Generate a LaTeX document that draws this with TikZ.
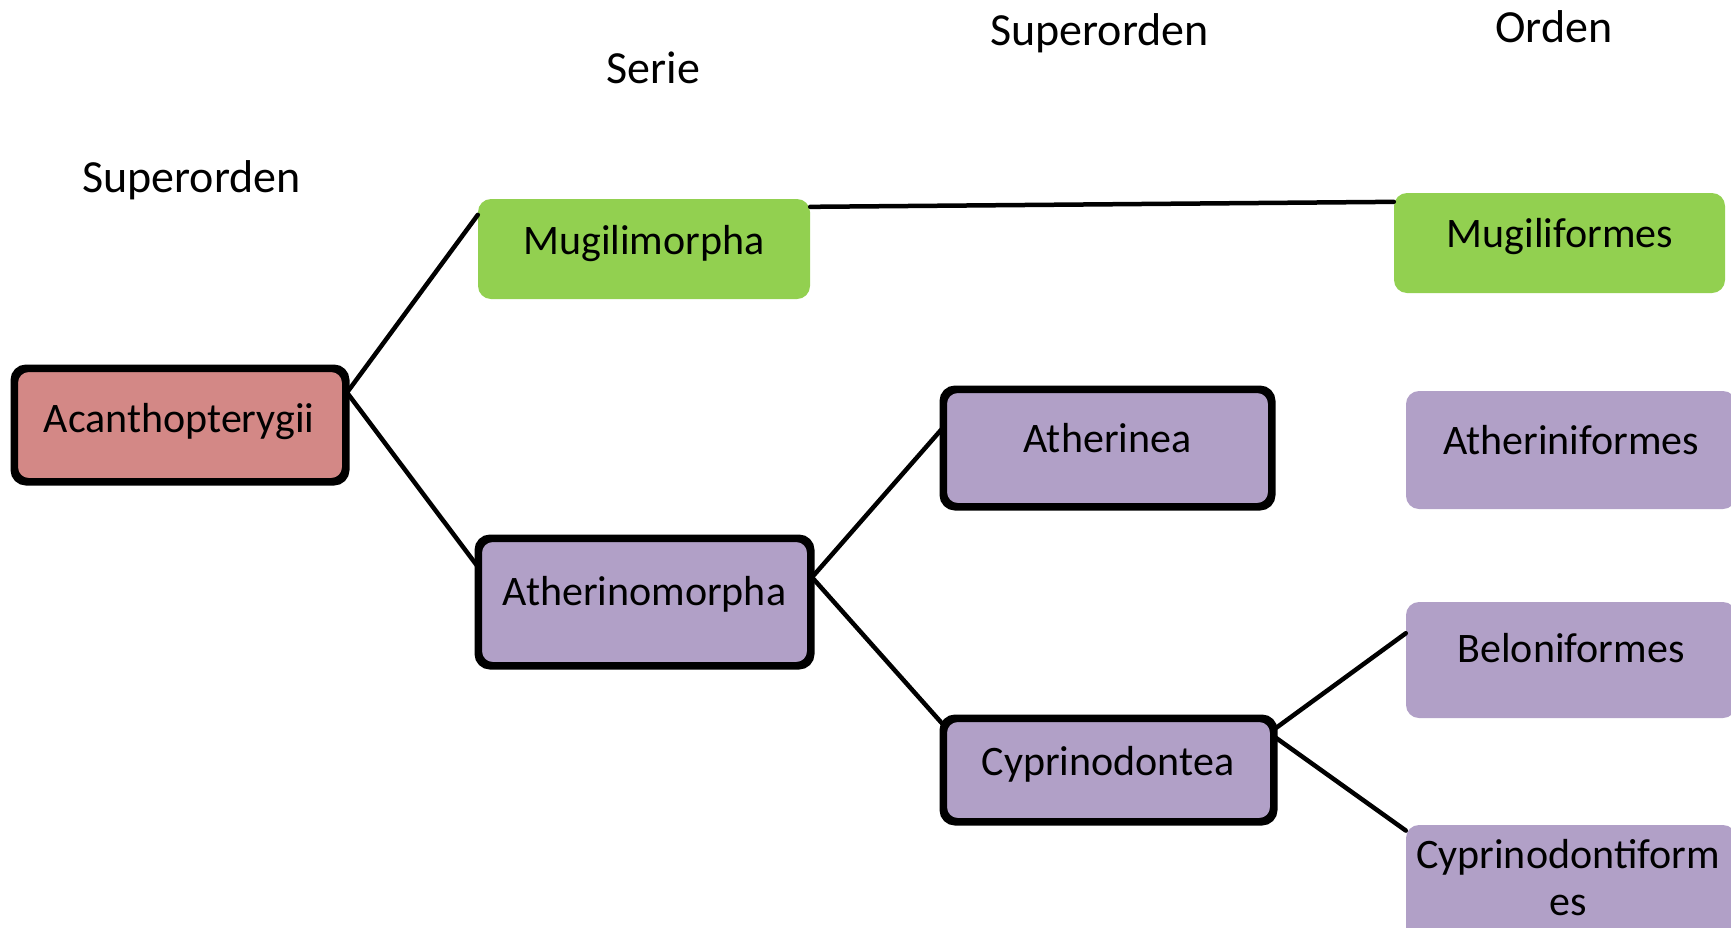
\documentclass[tikz,border=0pt]{standalone}
\usepackage{fontspec}
\setmainfont{Carlito}
\usetikzlibrary{calc}
\definecolor{redfill}{HTML}{D38886}
\definecolor{greenfill}{HTML}{92D050}
\definecolor{purplefill}{HTML}{B1A0C7}
\tikzset{
  box/.style={rectangle, rounded corners=13pt, inner sep=0pt, draw=none},
  framed/.style={box, draw=black, line width=5pt},
  lbl/.style={inner sep=0pt, anchor=base, font=\fontsize{42}{47}\selectfont, align=center},
  head/.style={inner sep=0pt, anchor=base, font=\fontsize{46}{46}\selectfont},
  link/.style={line width=4.5pt, line cap=round},
  outline/.style={line width=5pt, rounded corners=13pt},
}
\begin{document}
\begin{tikzpicture}[x=1pt, y=-1pt]
\useasboundingbox (0,0) rectangle (1731,927);

% column headings
\node[head] (h1) at (191.5,192) {Superorden};
\node[head] (h2) at (653.5,83) {Serie};
\node[head] (h3) at (1099.5,45) {Superorden};
\node[head] (h4) at (1554,42) {Orden};

% boxes (geometry only)
\node[framed, fill=redfill, minimum width=329pt, minimum height=111pt] (acan) at (180,425) {};
\node[box, fill=greenfill, minimum width=332pt, minimum height=100pt] (mugi) at (644,249) {};
\node[box, fill=greenfill, minimum width=331pt, minimum height=100pt] (mugf) at (1559.5,243) {};
\node[framed, fill=purplefill, minimum width=330pt, minimum height=125pt] (athm) at (644.5,602) {};
\node[framed, fill=purplefill, minimum width=326pt, minimum height=115pt] (athn) at (1107.5,448) {};
\node[framed, fill=purplefill, minimum width=328pt, minimum height=101pt] (cypr) at (1108.5,770) {};
\node[box, fill=purplefill, minimum width=330pt, minimum height=118pt] (athf) at (1571,450) {};
\node[box, fill=purplefill, minimum width=330pt, minimum height=116pt] (belf) at (1571,660) {};
\node[box, fill=purplefill, minimum width=330pt, minimum height=115pt] (cypf) at (1571,882.5) {};

% attachment points on the box edges
\coordinate (acanR) at ($(acan.north east)!0.22!(acan.south east)$);
\coordinate (athmR) at ($(athm.north east)!0.31!(athm.south east)$);
\coordinate (cyprRa) at ($(cypr.north east)!0.11!(cypr.south east)$);
\coordinate (cyprRb) at ($(cypr.north east)!0.19!(cypr.south east)$);
\coordinate (mugiR) at ($(mugi.north east)!0.08!(mugi.south east)$);
\coordinate (mugiL) at ($(mugi.north west)!0.16!(mugi.south west)$);
\coordinate (athmL) at ($(athm.north west)!0.22!(athm.south west)$);
\coordinate (mugfL) at ($(mugf.north west)!0.09!(mugf.south west)$);
\coordinate (athnL) at ($(athn.north west)!0.34!(athn.south west)$);
\coordinate (cyprL) at ($(cypr.north west)!0.06!(cypr.south west)$);
\coordinate (belfL) at ($(belf.north west)!0.27!(belf.south west)$);
\coordinate (cypfL) at ($(cypf.north west)!0.05!(cypf.south west)$);

% connectors
\draw[link] (acanR) -- (mugiL);
\draw[link] (acanR) -- (athmL);
\draw[link] (mugiR) -- (mugfL);
\draw[link] (athmR) -- (athnL);
\draw[link] (athmR) -- (cyprL);
\draw[link] (cyprRa) -- (belfL);
\draw[link] (cyprRb) -- (cypfL);

% outlines drawn again above the connector ends
\draw[outline] (acan.north west) rectangle (acan.south east);
\draw[outline] (athm.north west) rectangle (athm.south east);
\draw[outline] (athn.north west) rectangle (athn.south east);
\draw[outline] (cypr.north west) rectangle (cypr.south east);

% box labels
\node[lbl] (acanT) at (179,432) {Acanthopterygii};
\node[lbl] (mugiT) at (644,254) {Mugilimorpha};
\node[lbl] (mugfT) at (1560,247) {Mugiliformes};
\node[lbl] (athmT) at (644.5,605) {Atherinomorpha};
\node[lbl] (athnT) at (1107.5,452) {Atherinea};
\node[lbl] (cyprT) at (1108,775) {Cyprinodontea};
\node[lbl] (athfT) at (1571,454) {Atheriniformes};
\node[lbl] (belfT) at (1571,662) {Beloniformes};
\node[lbl] (cypfT) at (1568,915) {Cyprinodontiform\\es};
\end{tikzpicture}
\end{document}
